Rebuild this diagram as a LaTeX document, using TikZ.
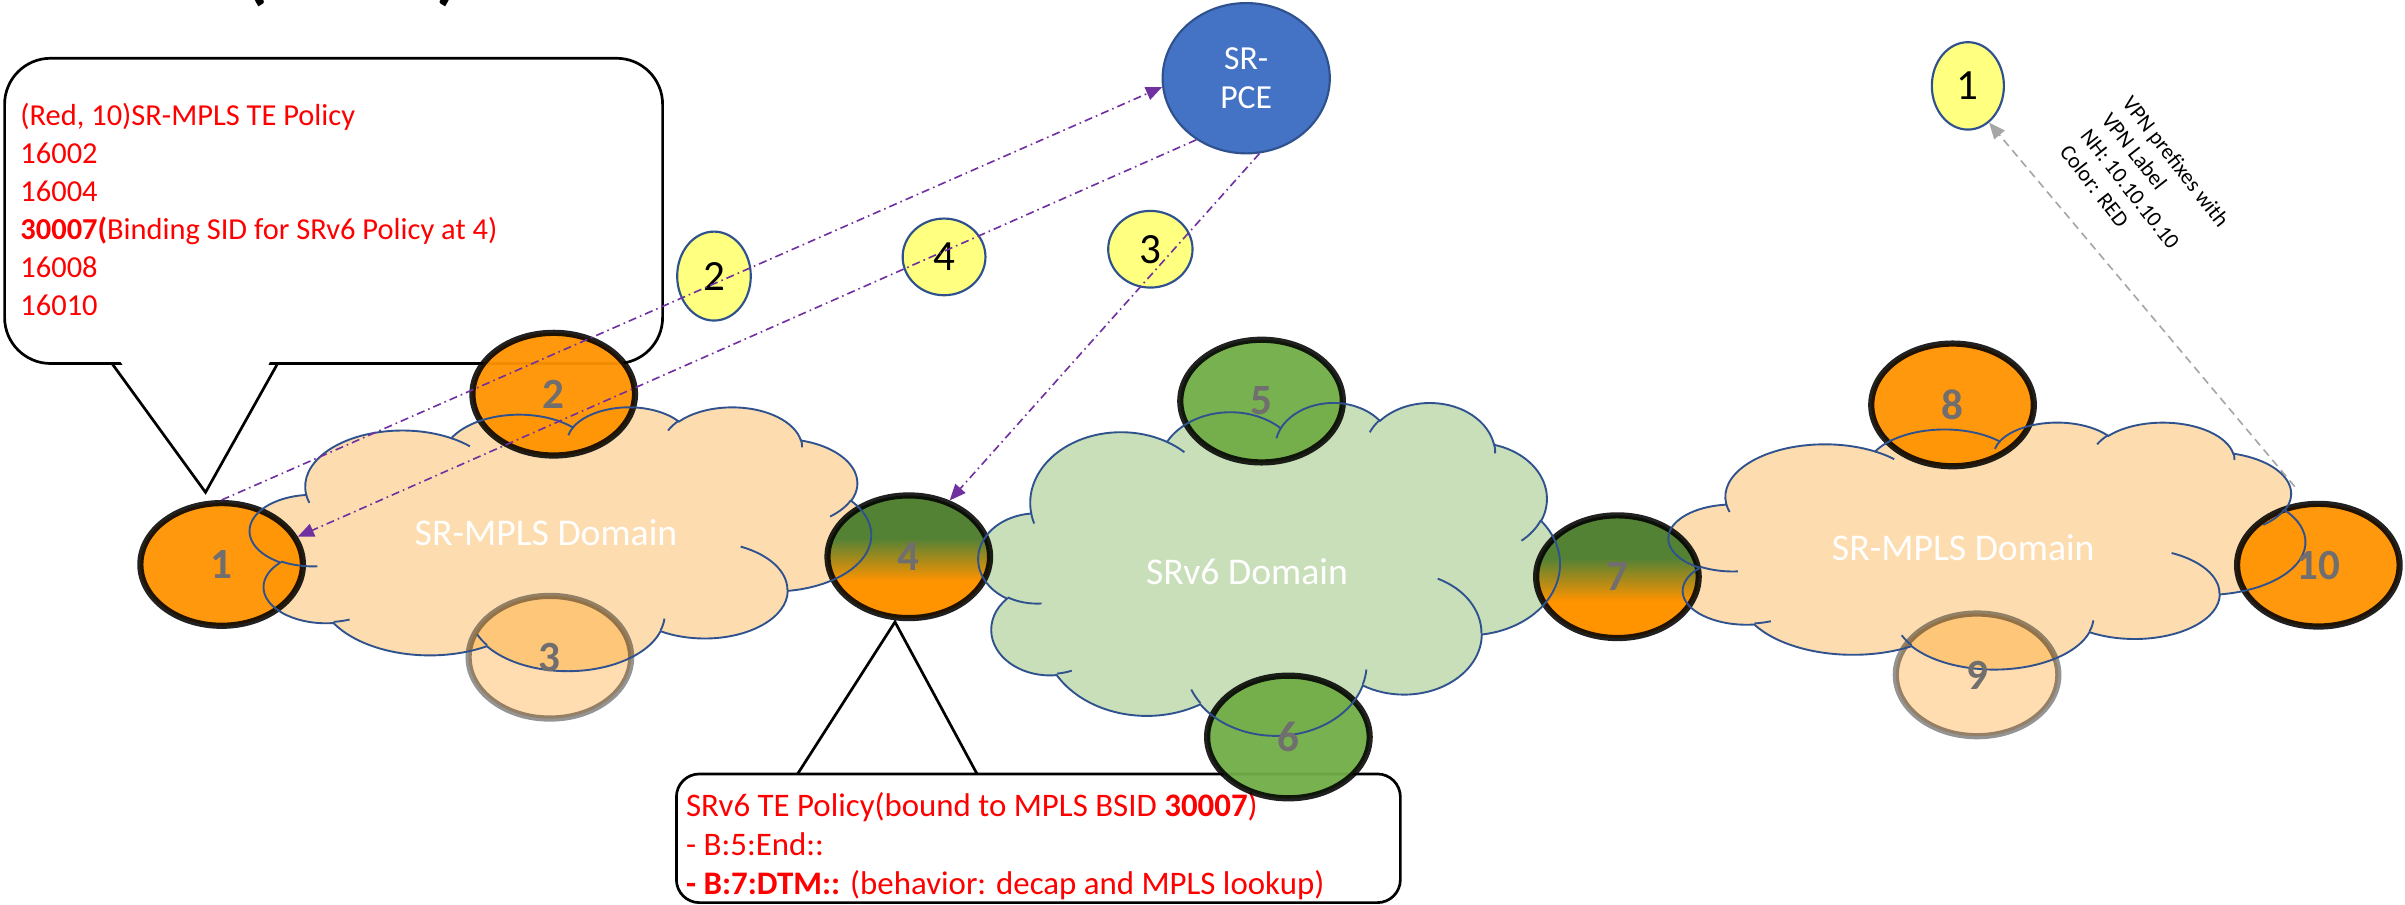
\documentclass[tikz,border=0pt]{standalone}
\usepackage{fontspec}
\setmainfont{Carlito}
\usetikzlibrary{shapes.geometric,arrows.meta}
\definecolor{nOrange}{RGB}{255,147,0}
\definecolor{nGreen}{RGB}{112,173,71}
\definecolor{gDark}{RGB}{84,130,53}
\definecolor{cloudOr}{RGB}{253,221,176}
\definecolor{cloudGr}{RGB}{200,223,185}
\definecolor{lineBlue}{RGB}{47,82,143}
\definecolor{pceBlue}{RGB}{68,114,196}
\definecolor{yel}{RGB}{255,255,128}
\definecolor{purp}{RGB}{112,48,160}
\definecolor{lblGray}{RGB}{112,110,110}
\definecolor{txtRed}{RGB}{255,0,0}
\definecolor{arrGray}{RGB}{166,166,166}
\pgfdeclareverticalshading{gtoo}{100bp}{color(0bp)=(nOrange); color(40bp)=(nOrange); color(57.5bp)=(gDark); color(100bp)=(gDark)}
\newcommand\cloudoutline{%
 (0.09028,0.33264)
 \foreach \w/\h/\s/\d [evaluate=\s as \ps using {atan2(\w*sin(\s),\h*cos(\s))},
   evaluate=\d as \pd using {mod(atan2(\w*sin(\s+\d),\h*cos(\s+\d))-atan2(\w*sin(\s),\h*cos(\s))+720,360)}] in {%
 0.15632/0.21273/-190.487/123.781,
 0.12345/0.16822/-144.102/89.945,
 0.10104/0.13762/-145.808/99.723,
 0.11243/0.15266/-130.986/117.242,
 0.12345/0.16836/-78.709/109.027,
 0.15683/0.21343/-46.267/130.269,
 0.13391/0.18211/0.625/114.033,
 0.15630/0.21331/22.452/115.173,
 0.17870/0.24405/66.243/75.711,
 0.10093/0.13699/-274.942/146.736,
 0.10058/0.13762/-246.829/152.519}
 {arc[start angle=\ps, delta angle=\pd, x radius=\w, y radius=\h]} -- cycle}
\newcommand\cloudhooks{%
 \foreach \px/\py/\w/\h/\s/\d [evaluate=\s as \ps using {atan2(\w*sin(\s),\h*cos(\s))},
   evaluate=\d as \pd using {mod(atan2(\w*sin(\s+\d),\h*cos(\s+\d))-atan2(\w*sin(\s),\h*cos(\s))+720,360)}] in {%
 0.10863/0.60595/0.10058/0.13762/86.742/26.430,
 0.16037/0.80785/0.10093/0.13699/73.610/11.447,
 0.38144/0.90486/0.15630/0.21331/137.624/14.081,
 0.66729/0.80442/0.15630/0.21331/6.453/15.998,
 0.79002/0.53134/0.13391/0.18211/-70.292/70.917,
 0.96755/0.35542/0.12345/0.16836/30.318/27.752,
 0.88713/0.12560/0.11243/0.15266/-13.744/14.859,
 0.67310/0.09148/0.11243/0.15266/-149.181/18.195,
 0.51252/0.10926/0.10104/0.13762/-163.494/17.686,
 0.32407/0.12019/0.15632/0.21273/-66.707/12.319,
 0.09553/0.36549/0.15632/0.21273/157.654/11.858}
 {(\px,\py) arc[start angle=\ps, delta angle=\pd, x radius=\w, y radius=\h]}}
\tikzset{
 callout/.style={draw=black, line width=1pt, line join=miter},
 ctext/.style={font=\fontsize{11.3}{14.1}\selectfont, text=txtRed, align=left, inner sep=0pt},
 bignode/.style={ellipse, minimum width=2.12cm, minimum height=1.60cm, inner sep=0pt, line width=2.3pt, draw=black, draw opacity=0.87},
 orfill/.style={fill=nOrange, fill opacity=0.95},
 grfill/.style={fill=nGreen, fill opacity=0.95},
 gradfill/.style={shade, shading=gtoo},
 fadefill/.style={fill=nOrange, fill opacity=0.31, draw=black, draw opacity=0.42},
 numlabel/.style={font=\fontsize{16}{16}\selectfont\bfseries, text=lblGray, inner sep=0pt},
 cloudline/.style={draw=lineBlue, line width=0.7pt},
 cloudtext/.style={font=\fontsize{14}{16}\selectfont, text=white},
 yelnode/.style={ellipse, fill=yel, draw=lineBlue, line width=0.8pt, inner sep=0pt, font=\fontsize{16}{16}\selectfont},
 parrow/.style={draw=purp, line width=0.6pt, dash pattern=on 3pt off 1.5pt on 0.6pt off 1.5pt, -{Triangle[length=6pt,width=5pt]}},
 garrow/.style={draw=arrGray, line width=0.6pt, dash pattern=on 3pt off 2pt, -{Triangle[length=6pt,width=5pt]}}
}
\begin{document}
\begin{tikzpicture}[x=0.02cm, y=-0.02cm]
\useasboundingbox (0,0) rectangle (1568,590);
\fill[white] (0,0) rectangle (1568,590);
% title remnant
\node[anchor=base west, font=\fontsize{28}{30}\selectfont\bfseries, inner sep=0pt] (title) at (159,-3) {(\hspace{2.2cm})};
% callout 1
\draw[callout, fill=white, rounded corners=0.6cm] (3,38) rectangle (432,237);
\fill[white] (76,232) -- (178,232) -- (134,318) -- cycle;
\draw[callout] (73,237) -- (134,321) -- (181,237);
\node[ctext, anchor=north west] (c1text) at (13,67) {(Red, 10)SR-MPLS TE Policy\\16002\\16004\\\textbf{30007(}Binding SID for SRv6 Policy at 4)\\16008\\16010};
% callout 2
\draw[callout, fill=white, rounded corners=0.3cm] (441,504.6) rectangle (913,588.5);
\fill[white] (523,500) -- (634,500) -- (583.5,410) -- cycle;
\draw[callout] (520,504.6) -- (583.5,405.5) -- (637,504.6);
\node[ctext, anchor=north west, font=\fontsize{12.2}{14.6}\selectfont] (c2text) at (447,516) {SRv6 TE Policy(bound to MPLS BSID \textbf{30007})\\- B:5:End::\\\textbf{- B:7:DTM::} (behavior: decap and MPLS lookup)};
% cloud fills
\begin{scope}[shift={(163,265)}, x=8.1cm, y=-3.44cm]
 \fill[cloudOr] \cloudoutline;
\end{scope}
\begin{scope}[shift={(638,262)}, x=7.58cm, y=-4.34cm]
 \fill[cloudGr] \cloudoutline;
\end{scope}
\begin{scope}[shift={(1088,275)}, x=8.3cm, y=-3.22cm]
 \fill[cloudOr] \cloudoutline;
\end{scope}
% routers
\node[bignode, orfill] (n1) at (144.5,368) {};
\node[bignode, orfill] (n2) at (361,257) {};
\node[bignode, fadefill] (n3) at (358.5,428.5) {};
\node[bignode, gradfill] (n4) at (592.5,363) {};
\node[bignode, grfill] (n5) at (822.5,261.5) {};
\node[bignode, grfill] (n6) at (840,480.5) {};
\node[bignode, gradfill] (n7) at (1054.5,376) {};
\node[bignode, orfill] (n8) at (1273,264) {};
\node[bignode, fadefill] (n9) at (1289,440) {};
\node[bignode, orfill] (n10) at (1511.5,368.5) {};
% cloud outlines
\begin{scope}[shift={(163,265)}, x=8.1cm, y=-3.44cm]
 \draw[cloudline] \cloudoutline;
 \draw[cloudline] \cloudhooks;
\end{scope}
\begin{scope}[shift={(638,262)}, x=7.58cm, y=-4.34cm]
 \draw[cloudline] \cloudoutline;
 \draw[cloudline] \cloudhooks;
\end{scope}
\begin{scope}[shift={(1088,275)}, x=8.3cm, y=-3.22cm]
 \draw[cloudline] \cloudoutline;
 \draw[cloudline] \cloudhooks;
\end{scope}
% labels
\node[cloudtext] (t1) at (356,347) {SR-MPLS Domain};
\node[cloudtext] (t2) at (813,373) {SRv6 Domain};
\node[cloudtext] (t3) at (1280,357) {SR-MPLS Domain};
\node[numlabel] (l1) at (n1) {1};
\node[numlabel] (l2) at (n2) {2};
\node[numlabel] (l3) at (n3) {3};
\node[numlabel] (l4) at (n4) {4};
\node[numlabel] (l5) at (n5) {5};
\node[numlabel] (l6) at (n6) {6};
\node[numlabel] (l7) at (n7) {7};
\node[numlabel] (l8) at (n8) {8};
\node[numlabel] (l9) at (n9) {9};
\node[numlabel] (l10) at (n10) {10};
% PCE and step markers
\node[ellipse, fill=pceBlue, draw=lineBlue, line width=0.8pt, minimum width=2.18cm, minimum height=1.96cm, inner sep=0pt, text=white, align=center, font=\fontsize{12.5}{14.7}\selectfont] (pce) at (812.5,51) {SR-\\PCE};
\node[yelnode, minimum width=0.96cm, minimum height=1.16cm] (y2) at (465.5,180) {2};
\node[yelnode, minimum width=1.08cm, minimum height=1.0cm] (y4) at (615.5,167.5) {4};
\node[yelnode, minimum width=1.1cm, minimum height=1.0cm] (y3) at (750,162.5) {3};
\node[yelnode, minimum width=0.94cm, minimum height=1.14cm] (y1) at (1283,56) {1};
% arrows
\draw[parrow] (n1.north) -- (pce.186);
\draw[parrow] (pce.231) -- (n1.20);
\draw[parrow] (pce.280) -- (n4.54);
\draw[garrow, shorten <=0.25cm] (n10.100) -- (y1.300);
% rotated annotation
\node[rotate=-52, anchor=north west, align=left, font=\fontsize{8.2}{9.8}\selectfont, inner sep=0pt] (vpn) at (1391,61) {VPN prefixes with\\VPN Label\\NH: 10.10.10.10\\Color: RED};
\end{tikzpicture}
\end{document}
